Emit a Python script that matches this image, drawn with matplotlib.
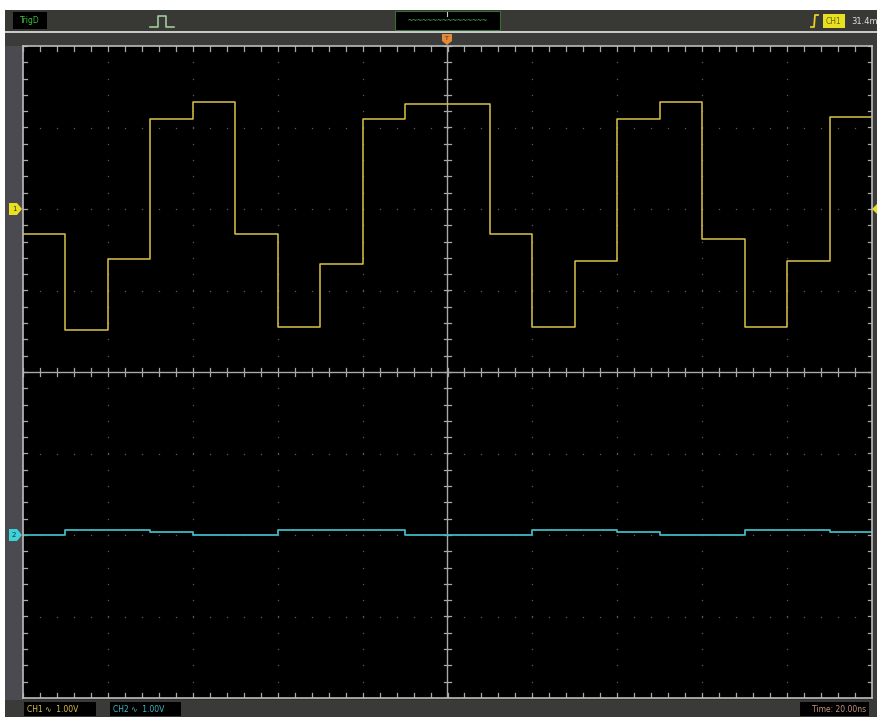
# oscilloscope screen capture, CH1 stepped wave + CH2 near-flat trace
import numpy as np
import matplotlib.pyplot as plt
from matplotlib.patches import Rectangle, Polygon
from matplotlib.lines import Line2D

W, H = 878, 717

# time axis: 20 ns/div, 10 divisions, segment edges every 10 ns
edges_ns = [-100, -90, -80, -70, -60, -50, -40, -30, -20, -10, 0,
            10, 20, 30, 40, 50, 60, 70, 80, 90, 100]

# CH1 levels (V), 1.00 V/div, ground at +2 div
ch1_volts = [-0.31, -1.48, -0.61, 1.10, 1.31, -0.31, -1.45, -0.67, 1.10, 1.29,
             1.29, -0.31, -1.45, -0.64, 1.10, 1.31, -0.37, -1.45, -0.64, 1.13]
ch1_offset_div = 2.0

# CH2 levels (V), 1.00 V/div, ground at -2 div
ch2_volts = [0.0, 0.06, 0.06, 0.035, 0.0, 0.0, 0.06, 0.06, 0.06, 0.0,
             0.0, 0.0, 0.06, 0.06, 0.035, 0.0, 0.0, 0.06, 0.06, 0.035]
ch2_offset_div = -2.0

volts_per_div = 1.0
ns_per_div = 20.0

ch1_color = '#d9c24a'
ch2_color = '#3fb8c4'


def px(x, y):
    return (x / W, 1 - y / H)


def rect(x0, y0, x1, y1, color, z=0, **kw):
    fig.patches.append(Rectangle(px(x0, y1), (x1 - x0) / W, (y1 - y0) / H,
                                 transform=fig.transFigure, facecolor=color,
                                 edgecolor=kw.pop('ec', 'none'), lw=kw.pop('lw', 0),
                                 zorder=z, **kw))


def poly(pts, color, z=5):
    fig.patches.append(Polygon([px(x, y) for x, y in pts], closed=True,
                               transform=fig.transFigure, facecolor=color,
                               edgecolor='none', zorder=z))


def pline(pts, color, lw=1.0, z=5):
    xs, ys = zip(*[px(x, y) for x, y in pts])
    fig.lines.append(Line2D(xs, ys, transform=fig.transFigure, color=color,
                            lw=lw, zorder=z))


fig = plt.figure(figsize=(W / 100, H / 100), dpi=100, facecolor='white')

# window frame
rect(5, 10, 878, 717, '#2f2f2c')
rect(5, 10, 878, 31, '#383834')
rect(5, 31, 878, 33, '#c8c8c8')
rect(5, 33, 878, 46, '#3b3b39')
rect(5, 46, 23, 700, '#4a4a50')
rect(872, 46, 878, 700, '#3b3b39')
rect(5, 700, 878, 717, '#3a3a38')

# top bar items
rect(13, 12, 47, 29, '#000000', z=2)
fig.text(*px(30, 20.5), 'TrigD', color='#3fbf3f', fontsize=5.5, ha='center', va='center', zorder=3)
pline([(150, 27), (158, 27), (158, 16), (166, 16), (166, 27), (174, 27)], '#9fc99f', lw=1.2)
rect(395, 11, 500, 30, '#000000', z=2, ec='#3a6a3a', lw=0.8)
fig.text(*px(447.5, 21), '~' * 16, color='#3fa84f', fontsize=6, family='DejaVu Sans Mono',
         ha='center', va='center', zorder=3)
pline([(447, 12), (447, 16)], '#cccccc', lw=0.8)
pline([(811, 27), (814, 27), (815, 15), (818, 15)], '#e8d020', lw=1.3)
rect(823, 14, 845, 28, '#e8e020', z=2)
fig.text(*px(834, 21), 'CH1', color='#6a6a00', fontsize=5.5, ha='center', va='center', zorder=3)
fig.text(*px(851, 21), '31.4m', color='#e0e0e0', fontsize=6, ha='left', va='center', zorder=3)

# trigger position marker (top) and level markers
poly([(442, 34), (452, 34), (452, 41), (447, 45), (442, 41)], '#e08a3a')
fig.text(*px(447, 38.5), 'T', color='#5a2a00', fontsize=4.5, ha='center', va='center', zorder=6)

y1 = 372 - ch1_offset_div * 81.5
y2 = 372 - ch2_offset_div * 81.5
poly([(9, y1 - 6), (17, y1 - 6), (22, y1), (17, y1 + 6), (9, y1 + 6)], '#e8e020')
fig.text(*px(14, y1), '1', color='#3a3a00', fontsize=5, ha='center', va='center', zorder=6)
poly([(9, y2 - 6), (17, y2 - 6), (22, y2), (17, y2 + 6), (9, y2 + 6)], '#40d0d8')
fig.text(*px(14, y2), '2', color='#003a3a', fontsize=5, ha='center', va='center', zorder=6)
poly([(877, y1 - 5), (872, y1), (877, y1 + 5)], '#e8e020', z=30)

# bottom bar
rect(24, 702, 96, 716, '#000000', z=2)
fig.text(*px(27, 709), 'CH1 \u223f  1.00V', color='#d9c24a', fontsize=5.5, ha='left', va='center', zorder=3)
rect(110, 702, 181, 716, '#000000', z=2)
fig.text(*px(113, 709), 'CH2 \u223f  1.00V', color='#3fb8c4', fontsize=5.5, ha='left', va='center', zorder=3)
rect(800, 702, 869, 716, '#000000', z=2)
fig.text(*px(866, 709), 'Time: 20.00ns', color='#c89080', fontsize=5.5, ha='right', va='center', zorder=3)

# screen
ax = fig.add_axes([23 / W, 1 - 698 / H, (872 - 23) / W, (698 - 46) / H])
ax.set_zorder(10)
ax.set_facecolor('black')
ax.set_xlim(-5, 5)
ax.set_ylim(-4, 4)
ax.set_xticks([])
ax.set_yticks([])
for s in ax.spines.values():
    s.set_color('#bcbcbc')
    s.set_linewidth(1.2)

# dotted graticule
fine_x = np.arange(-5, 5.01, 0.2)
fine_y = np.arange(-4, 4.01, 0.2)
for gx in range(-4, 5):
    if gx == 0:
        continue
    ax.plot(np.full_like(fine_y, gx), fine_y, ls='none', marker='s', ms=0.9,
            color='#5a5a5a', mew=0)
for gy in range(-3, 4):
    if gy == 0:
        continue
    ax.plot(fine_x, np.full_like(fine_x, gy), ls='none', marker='s', ms=0.9,
            color='#5a5a5a', mew=0)

# centre cross with minor ticks
ax.axhline(0, color='#a8a8a8', lw=1.0)
ax.axvline(0, color='#a8a8a8', lw=1.0)
for tx in fine_x:
    ax.plot([tx, tx], [-0.05, 0.05], color='#a8a8a8', lw=0.9)
    ax.plot([tx, tx], [3.94, 4], color='#a8a8a8', lw=0.9)
    ax.plot([tx, tx], [-4, -3.94], color='#a8a8a8', lw=0.9)
for ty in fine_y:
    ax.plot([-0.04, 0.04], [ty, ty], color='#a8a8a8', lw=0.9)
    ax.plot([-5, -4.95], [ty, ty], color='#a8a8a8', lw=0.9)
    ax.plot([4.95, 5], [ty, ty], color='#a8a8a8', lw=0.9)

# traces
t_div = np.array(edges_ns) / ns_per_div
ch1_div = np.array(ch1_volts + [ch1_volts[-1]]) / volts_per_div + ch1_offset_div
ch2_div = np.array(ch2_volts + [ch2_volts[-1]]) / volts_per_div + ch2_offset_div
ax.plot(t_div, ch1_div, drawstyle='steps-post', color=ch1_color, lw=1.1)
ax.plot(t_div, ch2_div, drawstyle='steps-post', color=ch2_color, lw=1.3)

fig.savefig('out.png', dpi=100, facecolor=fig.get_facecolor())
